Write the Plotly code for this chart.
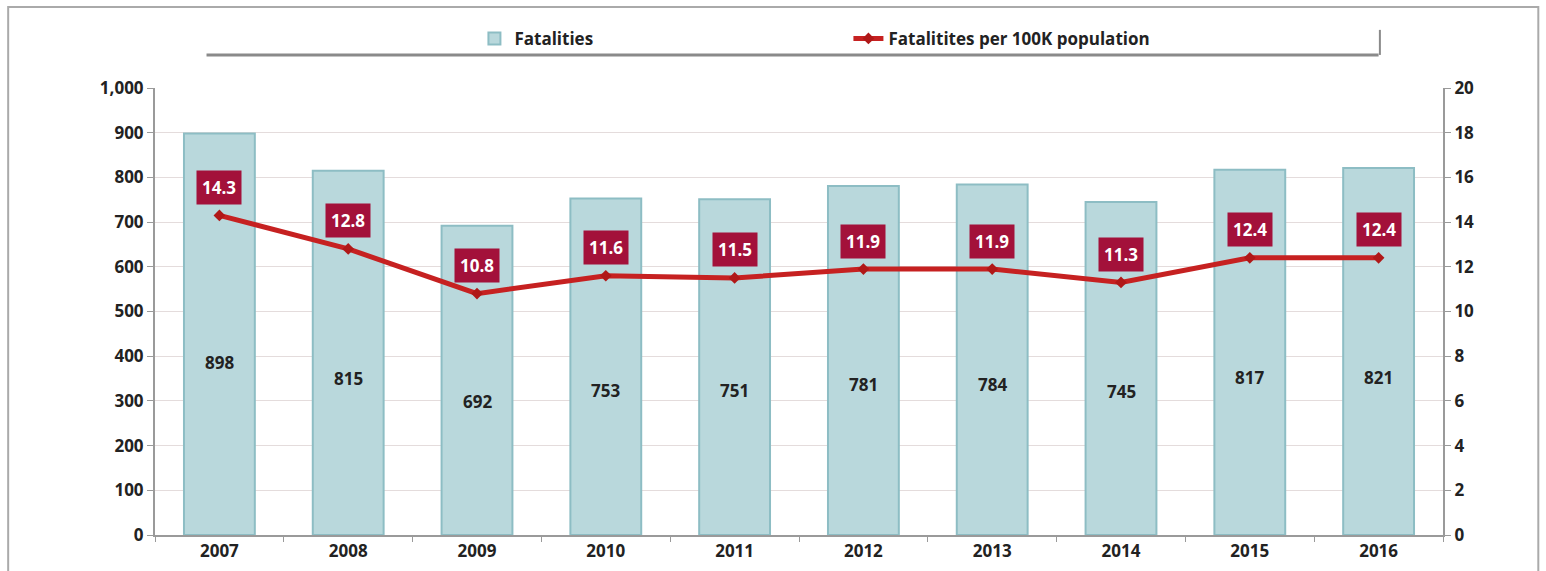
import plotly.graph_objects as go

years = ["2007", "2008", "2009", "2010", "2011", "2012", "2013", "2014", "2015", "2016"]
fatalities = [898, 815, 692, 753, 751, 781, 784, 745, 817, 821]
rate_per_100k = [14.3, 12.8, 10.8, 11.6, 11.5, 11.9, 11.9, 11.3, 12.4, 12.4]
left_ticks = [0, 100, 200, 300, 400, 500, 600, 700, 800, 900, 1000]
right_ticks = [0, 2, 4, 6, 8, 10, 12, 14, 16, 18, 20]

FONT = "Open Sans"
BAR_FILL = "#b9d8dc"
BAR_EDGE = "#8dbdc4"
LINE_RED = "#c62121"
LABEL_BG = "#a3113a"
GRID = "#e4dcdc"
AXIS = "#9a9a9a"

fig = go.Figure()
fig.add_trace(go.Bar(
    x=years, y=fatalities, name="Fatalities",
    marker=dict(color=BAR_FILL, line=dict(color=BAR_EDGE, width=2)),
    width=0.55, yaxis="y", hoverinfo="x+y",
))
fig.add_trace(go.Scatter(
    x=years, y=rate_per_100k, name="Fatalitites per 100K population",
    mode="lines+markers", yaxis="y2",
    line=dict(color=LINE_RED, width=5),
    marker=dict(symbol="diamond", size=9, color="#b01818"),
))

annotations = []
for i, v in enumerate(fatalities):
    annotations.append(dict(
        x=i, y=v * 0.43, xref="x", yref="y", text=str(v),
        showarrow=False, font=dict(family=FONT, size=17, color="#222222", weight="bold"),
    ))
for i, r in enumerate(rate_per_100k):
    annotations.append(dict(
        x=i, y=r, xref="x", yref="y2", text=f"{r:.1f}", showarrow=False,
        yshift=28, bgcolor=LABEL_BG, borderpad=5,
        font=dict(family=FONT, size=17, color="white", weight="bold"),
    ))

shapes = [
    # outer frame
    dict(type="rect", xref="paper", yref="paper", x0=-0.114, x1=1.074, y0=-0.2, y1=1.181,
         line=dict(color="#aaaaaa", width=2), fillcolor="rgba(0,0,0,0)", layer="below"),
    # legend box shadow
    dict(type="line", xref="paper", yref="paper", x0=0.04, x1=0.95, y0=1.074, y1=1.074,
         line=dict(color="#8a8a8a", width=3)),
    dict(type="line", xref="paper", yref="paper", x0=0.951, x1=0.951, y0=1.074, y1=1.13,
         line=dict(color="#8a8a8a", width=2)),
]

fig.update_layout(
    width=1546, height=571,
    margin=dict(l=155, r=103, t=88, b=36, autoexpand=False),
    paper_bgcolor="white", plot_bgcolor="white",
    font=dict(family=FONT, size=17, color="#222222"),
    showlegend=True,
    legend=dict(orientation="h", x=0.248, xanchor="left", y=1.11, yanchor="middle",
                entrywidth=329, entrywidthmode="pixels", bgcolor="rgba(0,0,0,0)",
                font=dict(family=FONT, size=17, color="#222222", weight="bold"), traceorder="normal"),
    bargap=0.45,
    xaxis=dict(type="category", showline=True, linecolor=AXIS, linewidth=2,
               ticks="outside", tickson="boundaries", ticklen=5, tickcolor=AXIS,
               tickfont=dict(family=FONT, size=17, color="#222222", weight="bold"),
               showgrid=False, range=[-0.5, 9.5], automargin=False),
    yaxis=dict(range=[0, 1000], tickvals=left_ticks, ticktext=[f"{t:,}" for t in left_ticks],
               showline=True, linecolor=AXIS, linewidth=2, ticks="outside", ticklen=6,
               tickcolor=AXIS, gridcolor=GRID, gridwidth=1, zeroline=False, automargin=False,
               tickfont=dict(family=FONT, size=17, color="#222222", weight="bold")),
    yaxis2=dict(range=[0, 20], tickvals=right_ticks, overlaying="y", side="right",
                showline=True, linecolor=AXIS, linewidth=2, ticks="outside", ticklen=6,
                tickcolor=AXIS, showgrid=False, zeroline=False, automargin=False,
                tickfont=dict(family=FONT, size=17, color="#222222", weight="bold")),
    annotations=annotations,
    shapes=shapes,
)

fig.write_html("out.html", config={"displayModeBar": False},
               post_script="document.body.style.margin='0';")
